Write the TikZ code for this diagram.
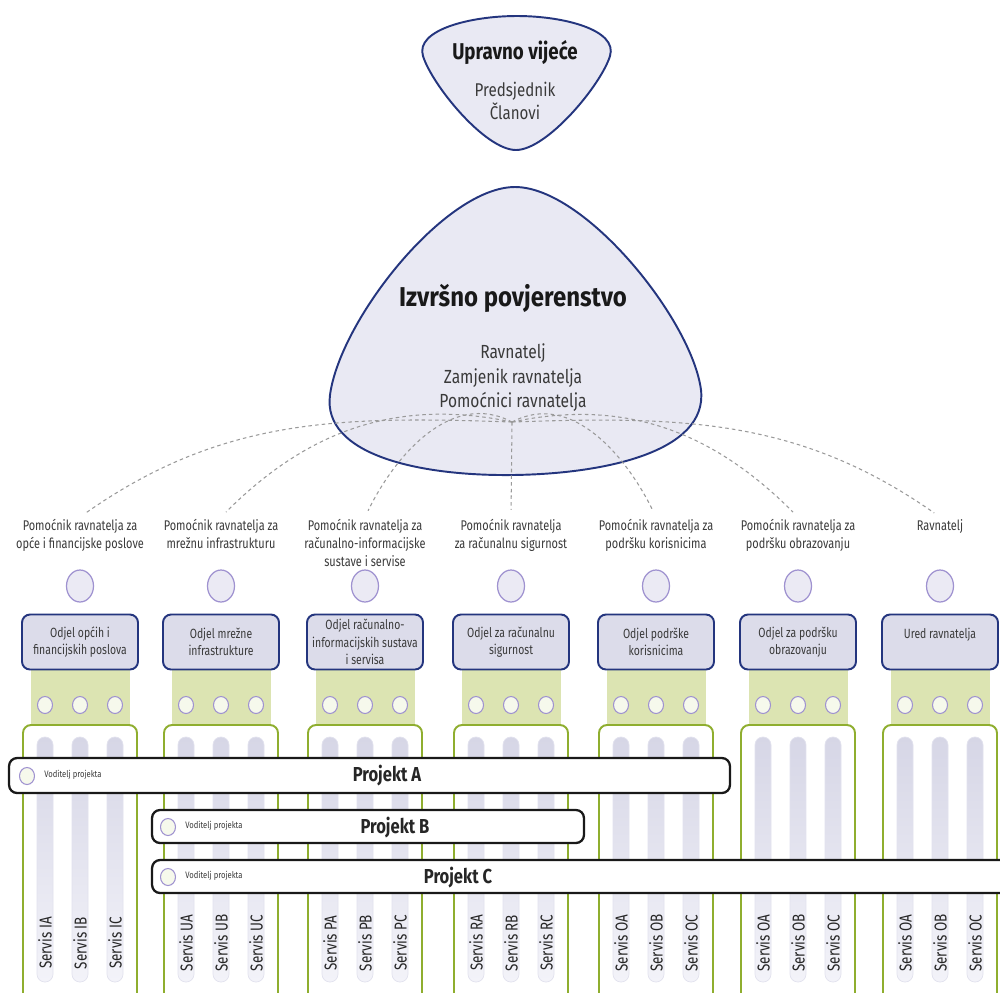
\documentclass[tikz,border=0pt]{standalone}
\usepackage{fontspec}
\setmainfont{Fira Sans}[FakeStretch=0.82]
\newfontfamily\smallf{Fira Sans}[FakeStretch=0.78]
\newfontfamily\titlef{Fira Sans}[FakeStretch=0.88]
\usetikzlibrary{shapes.geometric}
\definecolor{navy}{HTML}{24357E}
\definecolor{shapefill}{HTML}{E9E9F3}
\definecolor{deptfill}{HTML}{DCDCEA}
\definecolor{txtgray}{HTML}{3A3A3A}
\definecolor{dashgray}{HTML}{9A9A9A}
\definecolor{lav}{HTML}{9F92D0}
\definecolor{asstfill}{HTML}{EBEAF4}
\definecolor{dotfill}{HTML}{F6F9EC}
\definecolor{bandgreen}{HTML}{DCE4B2}
\definecolor{bordergreen}{HTML}{8FAE2F}
\definecolor{pilltop}{HTML}{D6D6E6}
\definecolor{pillbot}{HTML}{F3F3F9}
\definecolor{pillborder}{HTML}{E2E2EE}
\begin{document}
\begin{tikzpicture}[x=0.02cm,y=-0.02cm,
  lbl/.style={align=center, font=\smallf\fontsize{8}{10.2}\selectfont, text=txtgray, inner sep=1pt, anchor=north},
  dept/.style={draw=navy, line width=1.1pt, fill=deptfill, rounded corners=0.16cm, minimum width=2.32cm, minimum height=1.1cm, align=center, font=\smallf\fontsize{7.6}{9.9}\selectfont, text=txtgray, inner sep=1pt},
  asst/.style={ellipse, draw=lav, fill=asstfill, line width=0.7pt, minimum width=0.54cm, minimum height=0.64cm, inner sep=0pt},
  dotc/.style={ellipse, draw=lav, fill=dotfill, line width=0.6pt, minimum width=0.3cm, minimum height=0.34cm, inner sep=0pt},
  conn/.style={draw=dashgray, dash pattern=on 2pt off 1.8pt, line width=0.6pt, shorten >=4pt},
  projbar/.style={draw=black!90, line width=1.3pt, fill=white, rounded corners=0.16cm, minimum height=0.7cm, inner sep=0pt},
  ptitle/.style={font=\bfseries\fontsize{11.5}{13}\selectfont, text=black!85},
  vod/.style={font=\fontsize{5.3}{6}\selectfont, text=txtgray, anchor=west, inner sep=0pt},
  svc/.style={font=\smallf\fontsize{9.8}{11}\selectfont, rotate=90, text=black!85, inner sep=0pt},
  shapeline/.style={draw=navy, line width=1.1pt, fill=shapefill}
]
\clip (0,0) rectangle (1000,992);
\fill[white] (0,0) rectangle (1000,992);

% Upravno vijece
\path[shapeline] (516,150) .. controls (485,150) and (432,85) .. (423,56)
  .. controls (415,30) and (470,16) .. (517,16)
  .. controls (564,16) and (618,30) .. (610,56)
  .. controls (601,85) and (547,150) .. (516,150) -- cycle;
\node[font=\bfseries\fontsize{13}{15}\selectfont, text=black!90] (uvt) at (515,52) {Upravno vijeće};
\node[align=center, font=\fontsize{10.5}{13}\selectfont, text=txtgray] (uvs) at (515,101) {Predsjednik\\Članovi};

% Izvrsno povjerenstvo
\path[shapeline] (512,475) .. controls (420,476) and (322,455) .. (330,395)
  .. controls (340,320) and (445,187) .. (515,187)
  .. controls (585,187) and (692,320) .. (701,390)
  .. controls (708,452) and (604,474) .. (512,475) -- cycle;
\node[font=\titlef\bfseries\fontsize{15.5}{17}\selectfont, text=black!90] (ipt) at (513,298) {Izvršno povjerenstvo};
\node[align=center, font=\fontsize{10.8}{13.9}\selectfont, text=txtgray] (ips) at (513,378) {Ravnatelj\\Zamjenik ravnatelja\\Pomoćnici ravnatelja};
\coordinate (hub) at (512,422);

% labels
\node[lbl] (l1) at (80,517) {Pomoćnik ravnatelja za\\opće i financijske poslove};
\node[lbl] (l2) at (221,517) {Pomoćnik ravnatelja za\\mrežnu infrastrukturu};
\node[lbl] (l3) at (365,517) {Pomoćnik ravnatelja za\\računalno-informacijske\\sustave i servise};
\node[lbl] (l4) at (511,517) {Pomoćnik ravnatelja\\za računalnu sigurnost};
\node[lbl] (l5) at (656,517) {Pomoćnik ravnatelja za\\podršku korisnicima};
\node[lbl] (l6) at (798,517) {Pomoćnik ravnatelja za\\podršku obrazovanju};
\node[lbl] (l7) at (940,517) {Ravnatelj};

% dashed connectors
\draw[conn] (hub) to[out=178,in=35] (l1.north);
\draw[conn] (hub) to[out=168,in=45] (l2.north);
\draw[conn] (hub) to[out=152,in=64] (l3.north);
\draw[conn] (hub) -- (l4.north);
\draw[conn] (hub) to[out=28,in=116] (l5.north);
\draw[conn] (hub) to[out=12,in=135] (l6.north);
\draw[conn] (hub) to[out=2,in=145] (l7.north);

% columns
\foreach \c/\n/\t/\sa/\sb/\sc in {
  80/1/{Odjel općih i\\financijskih poslova}/IA/IB/IC,
  221/2/{Odjel mrežne\\infrastrukture}/UA/UB/UC,
  365/3/{Odjel računalno-\\informacijskih sustava\\i servisa}/PA/PB/PC,
  511/4/{Odjel za računalnu\\sigurnost}/RA/RB/RC,
  656/5/{Odjel podrške\\korisnicima}/OA/OB/OC,
  798/6/{Odjel za podršku\\obrazovanju}/OA/OB/OC,
  940/7/{Ured ravnatelja\\~}/OA/OB/OC}{
  \node[asst] (a\n) at (\c,586) {};
  \fill[bandgreen] (\c-49,668) rectangle (\c+50,726);
  \node[dept] (d\n) at (\c,642) {\t};
  \draw[bordergreen, line width=1.1pt, fill=white, rounded corners=0.16cm] (\c-57,725) rectangle (\c+57,1010);
  \foreach \o/\s in {-35/\sa,0/\sb,35/\sc}{
    \node[dotc] at (\c+\o,705) {};
    \shadedraw[top color=pilltop, bottom color=pillbot, draw=pillborder, line width=0.4pt, rounded corners=0.158cm] (\c+\o-8,737) rectangle (\c+\o+8,982);
    \node[svc] at (\c+\o,943) {Servis \s};
  }
}

% projects
\node[projbar, minimum width=14.42cm] (pa) at (369.5,775.5) {};
\node[dotc] (pac) at (27,776) {};
\node[vod] (pav) at (44,775) {Voditelj projekta};
\node[ptitle] (pat) at (387,776) {Projekt A};

\node[projbar, minimum width=8.64cm, minimum height=0.66cm] (pb) at (368,826.5) {};
\node[dotc] (pbc) at (168,827) {};
\node[vod] (pbv) at (185,826) {Voditelj projekta};
\node[ptitle] (pbt) at (395,828) {Projekt B};

\node[projbar, minimum width=17.36cm, minimum height=0.66cm] (pc) at (586,876.5) {};
\node[dotc] (pcc) at (168,877) {};
\node[vod] (pcv) at (185,876) {Voditelj projekta};
\node[ptitle] (pct) at (458,878) {Projekt C};
\end{tikzpicture}
\end{document}
